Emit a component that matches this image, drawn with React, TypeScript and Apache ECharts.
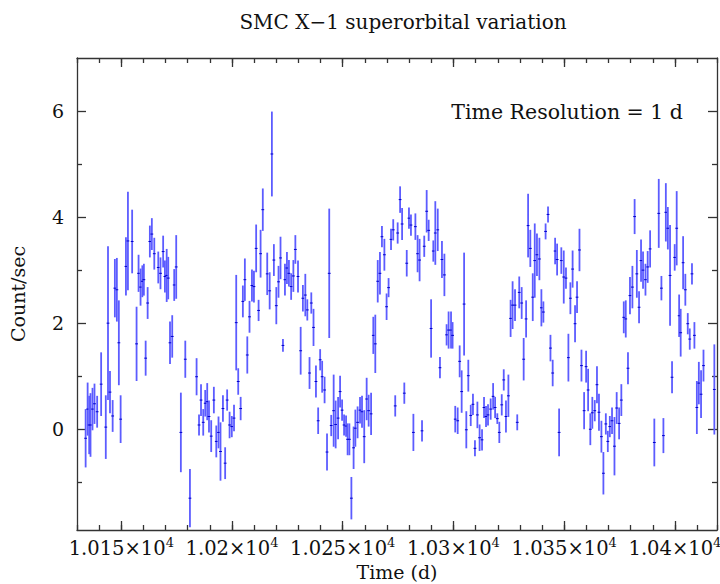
import React, { useEffect, useRef } from 'react';
import * as echarts from 'echarts';

// ---- Data (1-day bins) ----
const TIME_D = [
  10133.9,10134.8,10135.5,10136.1,10137.0,10137.9,10139.1,10140.9,10143.0,10144.0,10144.9,10146.1,10147.1,10148.0,10148.9,10149.7,10152.1,10153.0,10154.9,10156.9,10157.8,10158.7,10159.5,10160.2,10161.0,10161.9,10162.9,10163.8,10164.9,10166.7,10167.7,10168.9,10169.7,10170.5,10171.2,10172.0,10173.0,10173.9,10174.8,10176.9,10178.9,10181.0,10184.0,10185.1,10186.0,10187.0,
  10187.9,10188.8,10189.6,10190.6,10191.8,10192.9,10193.9,10194.8,10195.9,10196.9,10197.8,10198.9,10199.9,10200.9,10201.9,10202.8,10203.9,10204.9,10205.8,10206.9,10207.9,10209.0,10209.9,10210.9,10212.0,10212.9,10213.9,10215.9,10217.0,10218.0,10218.9,10220.0,10221.0,10221.9,10223.0,10223.9,10224.8,10225.7,10226.7,10227.7,10228.6,10229.8,10231.0,10232.0,10233.1,10234.0,10235.0,10235.8,10236.8,10237.9,10238.9,10239.8,10240.7,10241.8,10242.9,10243.9,10244.8,
  10245.9,10246.8,10247.9,10248.8,10249.7,10250.6,10251.5,10252.2,10253.0,10253.9,10254.9,10255.7,10256.7,10257.8,10258.7,10259.7,10260.8,10261.7,10262.8,10263.8,10264.7,10265.8,10266.8,10267.7,10268.8,10269.8,10270.7,10271.8,10272.8,10273.7,10274.8,10275.9,10276.8,10277.8,10278.9,10279.9,10280.8,10281.9,10282.8,10283.8,10284.7,10285.8,10286.8,10287.9,10288.8,10289.9,10290.9,10291.8,10292.9,10293.9,10294.8,10295.9,10296.9,10297.8,10298.9,10299.6,10300.8,10301.9,10302.8,
  10303.7,10304.8,10305.8,10306.7,10307.8,10308.8,10309.7,10310.8,10311.8,10312.9,10313.8,10314.7,10315.6,10316.8,10317.9,10318.8,10319.8,10320.7,10321.8,10322.7,10323.7,10324.8,10325.8,10326.7,10327.8,10328.8,10329.7,10330.8,10331.7,10332.8,10333.7,10334.7,10335.8,10336.7,10337.7,10338.8,10339.7,10340.6,10341.6,10342.7,10343.8,10344.8,10345.9,10346.8,10347.7,10348.7,10349.8,10350.8,10351.9,10352.8,10353.8,10354.9,10355.8,10356.9,10357.8,10359.0,10359.9,10360.8,
  10361.8,10362.7,10363.8,10364.8,10365.7,10366.8,10367.7,10368.8,10369.7,10370.6,10371.6,10372.7,10373.7,10374.8,10375.8,10376.9,10377.8,10378.8,10379.7,10380.8,10381.8,10382.8,10383.8,10384.7,10385.6,10386.7,10387.7,10388.8,10390.7,10392.7,10393.9,10394.8,10395.9,10396.8,10397.8,10398.7,10399.9,10400.8,10401.9,10402.6,10403.7,10404.7,10405.8,10406.7,10407.7,10408.8,10409.9,10410.8,10411.8,10412.9,10417.8,
];
const RATE = [
  -0.17,0.38,0.08,0.08,0.38,0.48,0.33,0.85,0.04,2.0,0.7,0.25,2.66,2.63,1.63,0.19,3.07,3.55,3.54,1.61,2.94,2.68,2.79,2.82,1.34,2.38,3.54,3.68,3.31,3.05,2.94,3.35,2.88,2.9,2.85,1.63,1.75,2.72,3.06,-0.06,1.32,-1.3,0.99,0.08,0.55,0.13,
  0.49,0.52,0.24,-0.13,0.55,-0.23,-0.06,-0.42,0.39,-0.64,0.55,0.08,0.05,0.21,2.01,0.9,0.39,2.41,2.82,1.4,2.12,2.71,2.69,3.41,2.24,3.31,4.14,2.93,2.61,5.19,3.19,2.33,2.78,3.23,1.58,2.82,3.04,2.94,2.69,2.89,3.39,2.88,1.48,2.47,2.53,2.25,1.06,2.38,1.92,0.9,0.16,1.31,0.99,0.74,-0.43,2.94,0.07,
  0.35,0.09,0.21,0.71,0.36,0.08,0.06,-0.19,-0.19,-1.3,-0.35,0.02,0.13,0.36,0.33,-0.14,0.57,0.35,0.29,1.77,1.61,2.79,2.94,3.63,3.29,2.31,2.67,3.58,3.76,0.44,3.7,4.33,3.87,0.68,3.13,3.98,3.85,-0.06,3.82,3.31,3.19,-0.03,3.45,4.11,3.75,1.9,3.36,3.7,3.76,1.16,3.2,2.91,1.78,1.87,1.87,1.77,0.19,0.16,1.28,
  0.71,2.36,-0.01,1.01,0.26,0.47,-0.36,0.27,-0.16,-0.2,0.41,0.24,0.27,0.38,0.62,0.41,0.2,-0.06,0.46,0.93,0.24,0.63,2.09,2.34,2.34,0.13,2.58,2.38,1.32,2.08,3.84,3.41,2.49,3.18,3.29,3.21,2.29,2.21,3.73,4.05,1.53,1.06,3.36,3.2,-0.06,3.18,2.87,2.85,1.35,2.47,3.02,1.99,2.49,3.38,1.2,0.35,1.18,0.74,
  0.0,0.31,0.35,0.84,0.32,-0.14,-0.83,0.1,-0.23,0.05,0.16,-0.32,0.4,0.11,0.55,2.11,2.08,1.15,2.52,2.68,4.01,2.93,2.3,3.18,3.0,2.82,3.06,3.4,-0.25,4.07,2.66,-0.12,4.09,3.79,2.9,0.98,3.24,3.79,2.14,1.82,3.14,2.63,1.99,1.7,2.93,1.77,0.41,0.87,0.66,1.2,0.75,
];
const RATE_ERR = [
  0.55,0.5,0.55,0.6,0.4,0.38,0.3,0.6,0.6,1.45,0.4,0.3,0.55,0.6,0.8,0.45,0.55,0.93,0.6,0.7,0.35,0.35,0.3,0.3,0.33,0.3,0.3,0.3,0.3,0.3,0.3,0.3,0.3,0.5,0.4,0.4,0.4,0.3,0.6,0.75,0.35,0.55,0.35,0.2,0.3,0.25,
  0.25,0.35,0.3,0.3,0.25,0.3,0.3,0.55,0.25,0.3,0.2,0.25,0.2,0.25,0.9,0.25,0.22,0.3,0.4,0.35,0.3,0.3,0.3,0.45,0.2,0.45,0.4,0.4,0.35,0.8,0.3,0.35,0.3,0.4,0.12,0.3,0.3,0.25,0.25,0.3,0.27,0.3,0.45,0.25,0.4,0.2,0.3,0.2,0.35,0.3,0.25,0.2,0.3,0.25,0.35,1.22,0.2,
  0.68,0.45,0.4,0.3,0.2,0.2,0.2,0.3,0.3,0.4,0.4,0.35,0.3,0.25,0.3,0.5,0.4,0.3,0.4,0.35,0.55,0.4,0.4,0.2,0.3,0.25,0.18,0.2,0.2,0.2,0.2,0.25,0.3,0.2,0.25,0.2,0.2,0.35,0.25,0.35,0.4,0.2,0.2,0.4,0.2,0.55,0.2,0.6,0.4,0.2,0.35,0.4,0.2,0.35,0.35,0.25,0.25,0.25,0.3,
  0.4,0.97,0.35,0.3,0.2,0.2,0.15,0.25,0.25,0.2,0.2,0.2,0.2,0.2,0.25,0.2,0.1,0.2,0.2,0.2,0.3,0.4,0.35,0.45,0.3,0.15,0.3,0.3,0.4,0.35,0.6,0.35,0.45,0.7,0.4,0.4,0.35,0.2,0.15,0.15,0.25,0.25,0.25,0.3,0.45,0.25,0.5,0.2,0.45,0.3,0.35,0.35,0.3,0.4,0.3,0.35,0.3,0.4,
  0.3,0.3,0.2,0.35,0.35,0.3,0.4,0.2,0.2,0.2,0.25,0.55,0.3,0.3,0.3,0.3,0.35,0.3,0.35,0.4,0.33,0.45,0.3,0.4,0.35,0.3,0.3,0.35,0.45,0.65,0.23,0.33,0.55,0.4,0.95,0.3,0.25,0.7,0.4,0.45,0.5,0.3,0.2,0.2,0.2,0.25,0.5,0.4,0.45,0.3,0.85,
];
const BIN_HALF_WIDTH = 0.5; // time resolution = 1 d

// ---- Axis ticks ----
const X_MIN = 10130;
const X_MAX = 10419;
const X_MAJOR = [10150, 10200, 10250, 10300, 10350, 10400];
const Y_MIN = -1.9;
const Y_MAX = 7;
const Y_MAJOR = [0, 2, 4, 6];
const Y_MINOR = [-1, 1, 3, 5];

const TITLE = 'SMC X\u22121 superorbital variation';
const NOTE = 'Time Resolution = 1 d';
const X_NAME = 'Time (d)';
const Y_NAME = 'Count/sec';

const FONT = 'DejaVu Serif';
const AXIS_COLOR = '#333';
const BAR_COLOR = '#5c5cff';
const MARK_COLOR = '#0000cc';

function buildOption() {
  const n = Math.min(TIME_D.length, RATE.length, RATE_ERR.length);
  const data: number[][] = [];
  for (let i = 0; i < n; i++) data.push([TIME_D[i], RATE[i], RATE_ERR[i]]);

  const lineStyle = { color: AXIS_COLOR, width: 1.3 };
  const labelRich = {
    m: { fontFamily: FONT, fontSize: 19.5, color: '#111', lineHeight: 24 },
    s: { fontFamily: FONT, fontSize: 13, color: '#111', lineHeight: 13, verticalAlign: 'top' },
  };
  const xFormatter = (v: number) => {
    const mant = parseFloat((v / 10000).toFixed(4));
    return '{m|' + mant + '\u00d710}{s|4}';
  };

  const xBase = {
    type: 'value',
    min: X_MIN,
    max: X_MAX,
    splitLine: { show: false },
  };
  const yBase = {
    type: 'value',
    min: Y_MIN,
    max: Y_MAX,
    splitLine: { show: false },
  };

  return {
    animation: false,
    backgroundColor: '#fff',
    title: {
      text: TITLE,
      left: 398,
      top: 7,
      textAlign: 'center',
      textStyle: { fontFamily: FONT, fontSize: 20, fontWeight: 'normal', color: '#111' },
    },
    grid: { left: 77, right: 3, top: 58, bottom: 54, containLabel: false, outerBoundsMode: 'none' },
    xAxis: [
      {
        ...xBase,
        position: 'bottom',
        interval: 10,
        axisLine: { show: true, onZero: false, lineStyle },
        axisTick: { show: true, inside: true, length: 5, lineStyle },
        axisLabel: {
          show: true,
          customValues: X_MAJOR,
          formatter: xFormatter,
          rich: labelRich,
          margin: 6,
          hideOverlap: false,
        },
        name: X_NAME,
        nameLocation: 'middle',
        nameGap: 31,
        nameTextStyle: { fontFamily: FONT, fontSize: 19, color: '#111' },
      },
      {
        ...xBase,
        position: 'bottom',
        axisLine: { show: false, onZero: false },
        axisTick: { show: true, inside: true, length: 9, customValues: X_MAJOR, lineStyle },
        axisLabel: { show: false },
      },
      {
        ...xBase,
        position: 'top',
        interval: 10,
        axisLine: { show: true, onZero: false, lineStyle },
        axisTick: { show: true, inside: true, length: 5, lineStyle },
        axisLabel: { show: false },
      },
      {
        ...xBase,
        position: 'top',
        axisLine: { show: false, onZero: false },
        axisTick: { show: true, inside: true, length: 9, customValues: X_MAJOR, lineStyle },
        axisLabel: { show: false },
      },
    ],
    yAxis: [
      {
        ...yBase,
        position: 'left',
        axisLine: { show: true, onZero: false, lineStyle },
        axisTick: { show: true, inside: true, length: 9, customValues: Y_MAJOR, lineStyle },
        axisLabel: {
          show: true,
          customValues: Y_MAJOR,
          margin: 13,
          fontFamily: FONT,
          fontSize: 19,
          color: '#111',
        },
        name: Y_NAME,
        nameLocation: 'middle',
        nameGap: 50,
        nameRotate: 90,
        nameTextStyle: { fontFamily: FONT, fontSize: 19, color: '#111' },
      },
      {
        ...yBase,
        position: 'left',
        axisLine: { show: false, onZero: false },
        axisTick: { show: true, inside: true, length: 5, customValues: Y_MINOR, lineStyle },
        axisLabel: { show: false },
      },
      {
        ...yBase,
        position: 'right',
        axisLine: { show: true, onZero: false, lineStyle },
        axisTick: { show: true, inside: true, length: 9, customValues: Y_MAJOR, lineStyle },
        axisLabel: { show: false },
      },
      {
        ...yBase,
        position: 'right',
        axisLine: { show: false, onZero: false },
        axisTick: { show: true, inside: true, length: 5, customValues: Y_MINOR, lineStyle },
        axisLabel: { show: false },
      },
    ],
    graphic: [
      {
        type: 'text',
        x: 683,
        y: 112,
        style: {
          text: NOTE,
          fontFamily: FONT,
          fontSize: 20.5,
          fill: '#111',
          textAlign: 'right',
          textVerticalAlign: 'middle',
        },
      },
    ],
    series: [
      {
        type: 'custom',
        name: 'rate',
        xAxisIndex: 0,
        yAxisIndex: 0,
        clip: true,
        dimensions: ['time', 'rate', 'err'],
        encode: { x: 0, y: 1 },
        data,
        renderItem: (params: any, api: any) => {
          const t = api.value(0);
          const v = api.value(1);
          const e = api.value(2);
          const top = api.coord([t, v + e]);
          const bot = api.coord([t, v - e]);
          const l = api.coord([t - BIN_HALF_WIDTH, v]);
          const r = api.coord([t + BIN_HALF_WIDTH, v]);
          return {
            type: 'group',
            children: [
              {
                type: 'line',
                shape: { x1: top[0], y1: top[1], x2: bot[0], y2: bot[1] },
                style: { stroke: BAR_COLOR, lineWidth: 1.8 },
              },
              {
                type: 'line',
                shape: { x1: l[0] - 0.3, y1: l[1], x2: r[0] + 0.3, y2: r[1] },
                style: { stroke: MARK_COLOR, lineWidth: 1 },
              },
            ],
          };
        },
      },
    ],
  };
}

export default function App() {
  const ref = useRef<HTMLDivElement>(null);
  useEffect(() => {
    if (!ref.current) return;
    const chart = echarts.init(ref.current, null, { renderer: 'svg' });
    chart.setOption(buildOption() as any);
    return () => chart.dispose();
  }, []);
  return (
    <div
      ref={ref}
      style={{ position: 'fixed', left: 0, top: 0, width: 720, height: 584, background: '#fff' }}
    />
  );
}
